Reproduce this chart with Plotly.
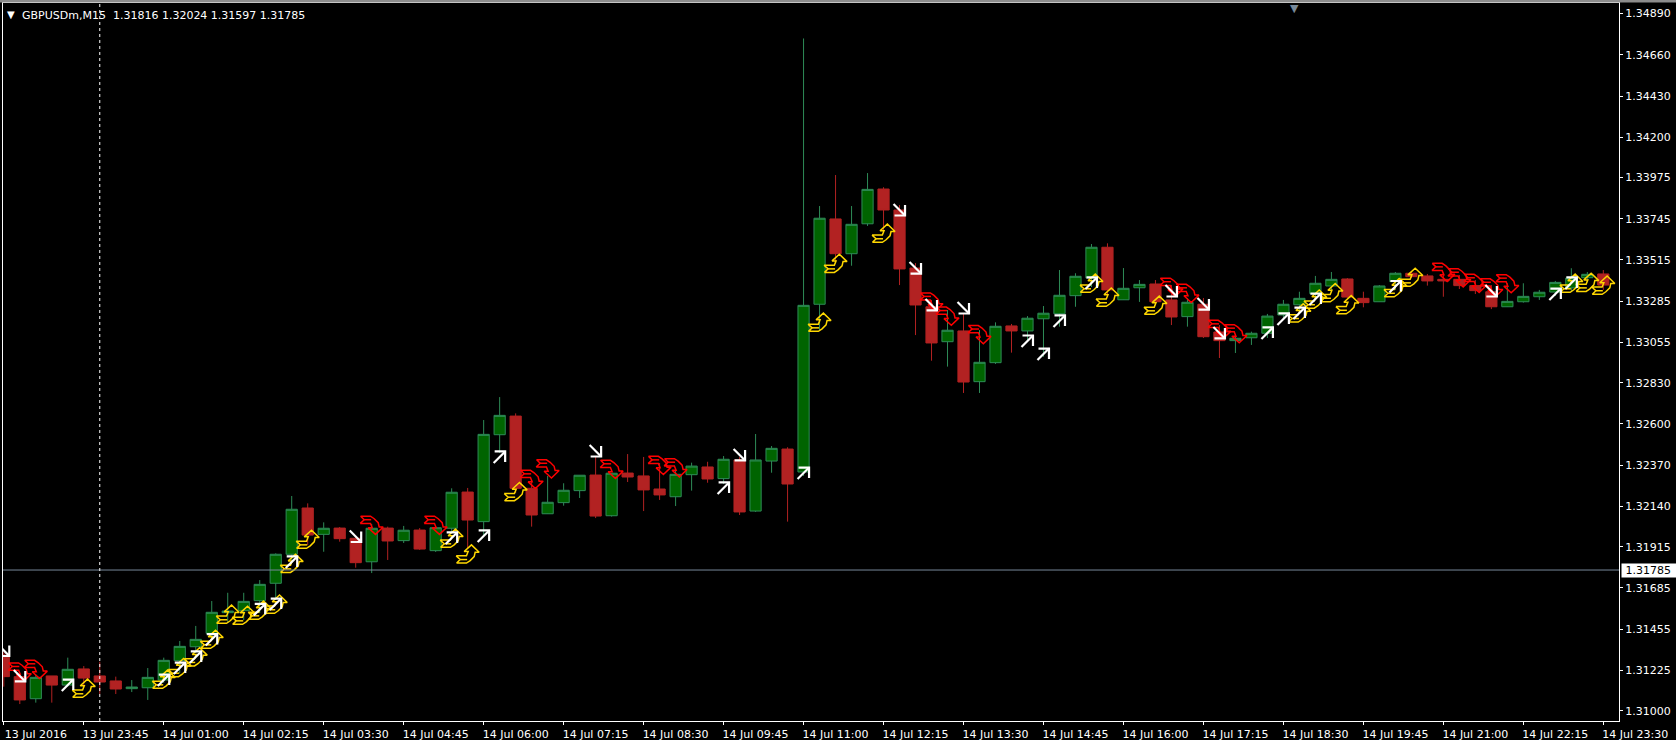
import plotly.graph_objects as go

# ---------- data ----------
opens = [1.31311,1.31190,1.31067,1.31194,1.31143,1.31233,1.31194,1.31166,1.31123,1.31128,
1.31171,1.31279,1.31357,1.31432,1.31547,1.31558,1.31614,1.31711,1.31873,1.32131,
1.31984,1.32019,1.31962,1.31831,1.32019,1.31949,1.32008,1.31893,1.32018,1.32220,
1.32055,1.32540,1.32644,1.32241,1.32099,1.32161,1.32228,1.32315,1.32088,1.32326,
1.32310,1.32237,1.32194,1.32317,1.32360,1.32295,1.32399,1.32114,1.32393,1.32460,
1.32332,1.33268,1.33744,1.33550,1.33717,1.33911,1.33794,1.33470,1.33254,1.33059,
1.33119,1.32836,1.32942,1.33147,1.33119,1.33187,1.33215,1.33316,1.33414,1.33586,
1.33293,1.33360,1.33381,1.33292,1.33199,1.33268,1.33113,1.33065,1.33081,1.33106,
1.33208,1.33265,1.33327,1.33370,1.33409,1.33301,1.33282,1.33394,1.33441,1.33426,
1.33407,1.33407,1.33372,1.33338,1.33254,1.33282,1.33310,1.33336,1.33359,1.33416,1.33437]
highs = [1.31328,1.31210,1.31199,1.31194,1.31296,1.31249,1.31273,1.31190,1.31171,1.31238,
1.31296,1.31389,1.31473,1.31612,1.31658,1.31658,1.31729,1.31878,1.32198,1.32157,
1.32051,1.32025,1.31969,1.32042,1.32027,1.32031,1.32019,1.32027,1.32241,1.32243,
1.32622,1.32750,1.32659,1.32287,1.32310,1.32269,1.32315,1.32417,1.32326,1.32432,
1.32416,1.32382,1.32343,1.32384,1.32389,1.32421,1.32416,1.32544,1.32477,1.32470,
1.34751,1.33816,1.33989,1.33816,1.34000,1.33921,1.33822,1.33498,1.33292,1.33236,
1.33219,1.33124,1.33167,1.33158,1.33202,1.33258,1.33459,1.33441,1.33604,1.33608,
1.33470,1.33403,1.33403,1.33375,1.33303,1.33303,1.33152,1.33096,1.33115,1.33214,
1.33292,1.33338,1.33426,1.33448,1.33414,1.33338,1.33375,1.33448,1.33448,1.33437,
1.33442,1.33431,1.33403,1.33375,1.33385,1.33385,1.33348,1.33398,1.33469,1.33448,1.33459]
lows = [1.31134,1.31037,1.31045,1.31045,1.31134,1.31134,1.31093,1.31093,1.31104,1.31060,
1.31155,1.31210,1.31322,1.31395,1.31489,1.31506,1.31545,1.31618,1.31841,1.31925,
1.31887,1.31943,1.31798,1.31768,1.31841,1.31936,1.31897,1.31886,1.31992,1.31908,
1.31980,1.32438,1.32215,1.32027,1.32098,1.32144,1.32187,1.32075,1.32083,1.32276,
1.32114,1.32176,1.32142,1.32228,1.32272,1.32265,1.32092,1.32109,1.32328,1.32055,
1.32310,1.33124,1.33498,1.33483,1.33705,1.33682,1.33375,1.33096,1.32953,1.32920,
1.32773,1.32773,1.32935,1.32998,1.33069,1.32975,1.33143,1.33254,1.33364,1.33308,
1.33292,1.33281,1.33264,1.33152,1.33143,1.33080,1.32968,1.32996,1.33041,1.33080,
1.33191,1.33236,1.33292,1.33336,1.33303,1.33251,1.33281,1.33348,1.33414,1.33372,
1.33310,1.33353,1.33325,1.33241,1.33253,1.33277,1.33292,1.33314,1.33336,1.33392,1.33348]
closes = [1.31190,1.31060,1.31186,1.31143,1.31231,1.31182,1.31160,1.31121,1.31132,1.31186,
1.31281,1.31359,1.31398,1.31549,1.31556,1.31610,1.31705,1.31873,1.32124,1.31980,
1.32018,1.31960,1.31826,1.32018,1.31947,1.32007,1.31902,1.32021,1.32219,1.32064,
1.32542,1.32648,1.32241,1.32092,1.32163,1.32230,1.32314,1.32086,1.32325,1.32304,
1.32232,1.32204,1.32319,1.32365,1.32293,1.32403,1.32109,1.32399,1.32464,1.32265,
1.33262,1.33748,1.33550,1.33714,1.33909,1.33794,1.33465,1.33264,1.33052,1.33123,
1.32834,1.32944,1.33145,1.33119,1.33190,1.33218,1.33318,1.33424,1.33586,1.33348,
1.33357,1.33379,1.33282,1.33197,1.33279,1.33087,1.33065,1.33078,1.33106,1.33202,
1.33268,1.33301,1.33385,1.33407,1.33308,1.33277,1.33370,1.33441,1.33422,1.33398,
1.33398,1.33372,1.33344,1.33254,1.33284,1.33312,1.33335,1.33390,1.33414,1.33435,1.33375]

tick_index = [0,5,10,15,20,25,30,35,40,45,50,55,60,65,70,75,80,85,90,95,100]
tick_labels = ["13 Jul 2016","13 Jul 23:45","14 Jul 01:00","14 Jul 02:15","14 Jul 03:30",
"14 Jul 04:45","14 Jul 06:00","14 Jul 07:15","14 Jul 08:30","14 Jul 09:45","14 Jul 11:00",
"14 Jul 12:15","14 Jul 13:30","14 Jul 14:45","14 Jul 16:00","14 Jul 17:15","14 Jul 18:30",
"14 Jul 19:45","14 Jul 21:00","14 Jul 22:15","14 Jul 23:30"]
price_ticks = [1.31000,1.31225,1.31455,1.31685,1.31915,1.32140,1.32370,1.32600,1.32830,
1.33055,1.33285,1.33515,1.33745,1.33975,1.34200,1.34430,1.34660,1.34890]

up_i = [4,10,11,12,13,16,17,18,28,30,31,45,50,64,65,66,68,79,80,81,82,87,97,98]
up_p = [1.31143,1.31171,1.31238,1.31300,1.31397,1.31565,1.31595,1.31830,1.31964,1.31975,
1.32416,1.32243,1.32326,1.33063,1.32990,1.33175,1.33387,1.33108,1.33186,1.33219,1.33297,
1.33367,1.33325,1.33387]
down_i = [0,1,22,37,46,56,57,58,60,73,75,76,93]
down_p = [1.31336,1.31194,1.31972,1.32449,1.32427,1.33794,1.33470,1.33264,1.33247,1.33342,
1.33269,1.33108,1.33342]
buy_i = [5,10,11,12,13,14,15,16,17,18,19,28,29,32,51,52,55,68,69,72,81,82,83,84,87,88,98,99,100]
buy_p = [1.31125,1.31175,1.31240,1.31300,1.31398,1.31538,1.31532,1.31560,1.31594,1.31822,
1.31956,1.31962,1.31874,1.32222,1.33167,1.33496,1.33664,1.33385,1.33307,1.33262,1.33219,
1.33296,1.33332,1.33265,1.33360,1.33418,1.33385,1.33390,1.33374]
sell_i = [1,2,23,27,33,34,38,41,42,58,59,61,73,74,76,77,90,91,92,93,94]
sell_p = [1.31216,1.31231,1.32035,1.32035,1.32291,1.32350,1.32347,1.32369,1.32356,1.33281,
1.33202,1.33099,1.33363,1.33329,1.33128,1.33104,1.33446,1.33416,1.33385,1.33360,1.33383]

last_price = 1.31785
cursor_index = 6
header = "GBPUSDm,M15\u00a0\u00a01.31816 1.32024 1.31597 1.31785"

# ---------- layout constants ----------
W, H = 1676, 740
LEFT, RIGHT, TOP, BOTTOM = 2.5, 1619.0, 3.0, 721.0
X_RANGE = [-0.05, 100.98]
Y_RANGE = [1.309425, 1.349490]
PX_X = (X_RANGE[1] - X_RANGE[0]) / (RIGHT - LEFT)
PX_Y = (Y_RANGE[1] - Y_RANGE[0]) / (BOTTOM - TOP)

GREEN_FILL, GREEN_LINE = "#006400", "#2E8B57"
RED = "#B22222"
FONT = "DejaVu Sans"

# glyph outlines, in pixels about the glyph centre (y grows downward)
ARROW_UP = [[(-6, 6), (5.5, -5.5)], [(-5, -5.5), (5.5, -5.5), (5.5, 5)]]
ARROW_DOWN = [[(-6, -6), (5.5, 5.5)], [(-5, 5.5), (5.5, 5.5), (5.5, -5)]]
FISH_UP = [[(-11.5, 1.8), (-1.2, 1.8), (0.5, -2.5), (-3.5, -2.5), (3.8, -9.2), (11.5, -1.8), (7.5, -1.8),
            (6.5, 2.5), (2.5, 6.5), (-1.2, 9), (-11, 9), (-7.5, 5.5), (-11.5, 1.8)],
           [(-7.5, 5.5), (-0.5, 5.5)]]
FISH_DOWN = [[(x, -y) for x, y in part] for part in FISH_UP]


def glyph_trace(idx, prices, template, color, width, name):
    xs, ys = [], []
    for i, p in zip(idx, prices):
        for part in template:
            for dx, dy in part:
                xs.append(i + dx * PX_X)
                ys.append(p - dy * PX_Y)
            xs.append(None)
            ys.append(None)
    return go.Scatter(x=xs, y=ys, mode="lines", name=name, hoverinfo="skip",
                      line=dict(color=color, width=width, simplify=False), showlegend=False)


fig = go.Figure()
fig.add_trace(go.Candlestick(
    x=list(range(len(opens))), open=opens, high=highs, low=lows, close=closes,
    increasing=dict(fillcolor=GREEN_FILL, line=dict(color=GREEN_LINE, width=1)),
    decreasing=dict(fillcolor=RED, line=dict(color=RED, width=1)),
    whiskerwidth=0, showlegend=False, name="GBPUSDm,M15"))
fig.add_trace(glyph_trace(buy_i, buy_p, FISH_UP, "#FFD700", 1.5, "buy"))
fig.add_trace(glyph_trace(sell_i, sell_p, FISH_DOWN, "#FF0000", 1.5, "sell"))
fig.add_trace(glyph_trace(up_i, up_p, ARROW_UP, "#FFFFFF", 2.2, "up"))
fig.add_trace(glyph_trace(down_i, down_p, ARROW_DOWN, "#FFFFFF", 2.2, "down"))

axis_font = dict(family=FONT, size=11, color="#FFFFFF")
fig.update_layout(
    width=W, height=H, showlegend=False, boxgap=0.3, boxgroupgap=0,
    paper_bgcolor="#000000", plot_bgcolor="#000000",
    margin=dict(l=LEFT, r=W - RIGHT, t=TOP, b=H - BOTTOM, pad=0, autoexpand=False),
    xaxis=dict(range=X_RANGE, rangeslider=dict(visible=False), tickmode="array",
               tickvals=tick_index, ticktext=tick_labels, ticks="outside", ticklen=3,
               tickcolor="#FFFFFF", tickwidth=1, tickfont=axis_font, ticklabelshift=32,
               showgrid=False, zeroline=False, showline=True, linecolor="#FFFFFF",
               linewidth=1, mirror=True, tickangle=0, automargin=False),
    yaxis=dict(range=Y_RANGE, side="right", tickmode="array", tickvals=price_ticks,
               ticktext=[f"{v:.5f}" for v in price_ticks], ticks="outside", ticklen=3,
               tickcolor="#FFFFFF", tickwidth=1, tickfont=axis_font, showgrid=False,
               zeroline=False, showline=True, linecolor="#FFFFFF", linewidth=1,
               mirror=True, automargin=False),
    shapes=[
        dict(type="rect", xref="paper", yref="paper", x0=-0.01, x1=1.04, y0=1.0006, y1=1.006,
             fillcolor="#8C8C8C", line=dict(width=0)),
        dict(type="line", xref="paper", yref="y", x0=0, x1=1, y0=last_price, y1=last_price,
             line=dict(color="#778899", width=1)),
        dict(type="line", xref="x", yref="paper", x0=cursor_index, x1=cursor_index, y0=0, y1=1,
             line=dict(color="#FFFFFF", width=1, dash="3px,3px")),
    ],
    annotations=[
        dict(xref="paper", yref="paper", x=0, y=1, xshift=16.5, yshift=-12, xanchor="left",
             yanchor="middle", text=header, showarrow=False,
             font=dict(family=FONT, size=11, color="#FFFFFF")),
        dict(xref="paper", yref="paper", x=0, y=1, xshift=2, yshift=-11, xanchor="left",
             yanchor="middle", text="\u25bc", showarrow=False,
             font=dict(family=FONT, size=10, color="#FFFFFF")),
        dict(xref="paper", yref="paper", x=0.7990, y=1, yshift=-5, xanchor="center",
             yanchor="middle", text="\u25bc", showarrow=False,
             font=dict(family=FONT, size=11, color="#778899")),
        dict(xref="paper", yref="y", x=1, y=last_price, xshift=2, xanchor="left",
             yanchor="middle", text="\u00a01.31785\u00a0\u00a0", showarrow=False, bgcolor="#FFFFFF",
             borderpad=0, font=dict(family=FONT, size=11, color="#000000")),
    ],
)

fig.write_html("out.html", config=dict(displayModeBar=False),
               post_script="document.body.style.margin='0';document.body.style.background='#000';document.body.style.overflow='hidden';")
